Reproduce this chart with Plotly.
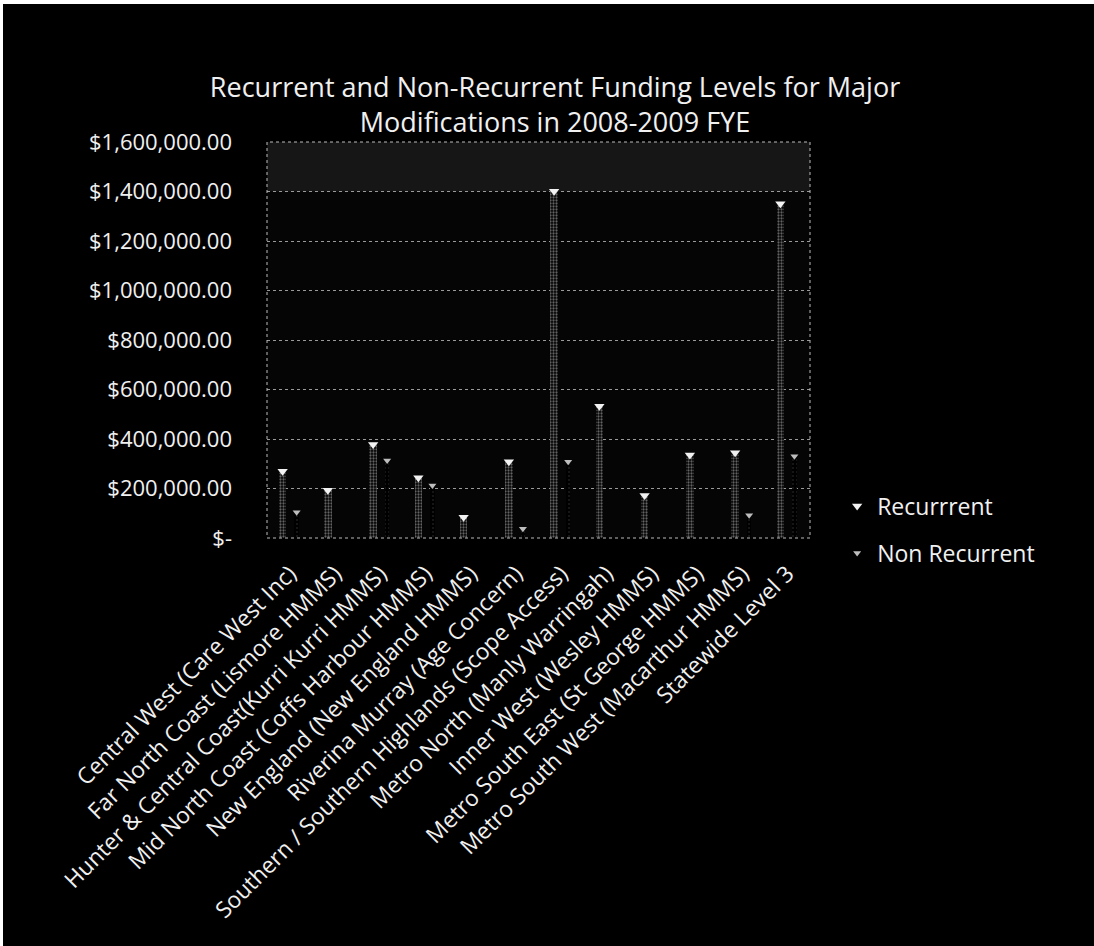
import numpy as np
import plotly.graph_objects as go

categories = [
    "Central West (Care West Inc)",
    "Far North Coast (Lismore HMMS)",
    "Hunter & Central Coast(Kurri Kurri HMMS)",
    "Mid North Coast (Coffs Harbour HMMS)",
    "New England (New England HMMS)",
    "Riverina Murray (Age Concern)",
    "Southern / Southern Highlands (Scope Access)",
    "Metro North (Manly Warringah)",
    "Inner West (Wesley HMMS)",
    "Metro South East (St George HMMS)",
    "Metro South West (Macarthur HMMS)",
    "Statewide Level 3",
]
recurrent = [270000, 193000, 378000, 243000, 84000, 308000, 1401000, 532000, 172000, 335000, 344000, 1351000]
non_recurrent = [104000, 0, 313000, 212000, 0, 37000, 308000, 0, 0, 0, 92000, 330000]
tick_vals = [0, 200000, 400000, 600000, 800000, 1000000, 1200000, 1400000, 1600000]
tick_text = ["$-", "$200,000.00", "$400,000.00", "$600,000.00", "$800,000.00",
             "$1,000,000.00", "$1,200,000.00", "$1,400,000.00", "$1,600,000.00"]

FONT = "Open Sans"
W, H = 1091, 942
xs = np.arange(len(categories))
off = 0.155
bw = 0.17

fig = go.Figure()
fig.add_trace(go.Bar(
    x=xs - off, y=recurrent, width=bw, showlegend=False, hoverinfo="skip",
    marker=dict(color="#000000", line=dict(width=0),
                pattern=dict(shape=".", fgcolor="#c4c4c4", size=3, solidity=0.45)),
))
fig.add_trace(go.Bar(
    x=xs + off, y=non_recurrent, width=bw * 0.6, showlegend=False, hoverinfo="skip",
    marker=dict(color="#000000", line=dict(width=0),
                pattern=dict(shape=".", fgcolor="#3a3a3a", size=4, solidity=0.2)),
))
fig.add_trace(go.Scatter(
    x=xs - off, y=recurrent, mode="markers", name="Recurrrent", legendgroup="a",
    marker=dict(symbol="triangle-down", size=9, color="#f2f2f2"),
))
nr_x = [x + off for x, v in zip(xs, non_recurrent) if v > 0]
nr_y = [v for v in non_recurrent if v > 0]
fig.add_trace(go.Scatter(
    x=nr_x, y=nr_y, mode="markers", name="Non Recurrent", legendgroup="b",
    marker=dict(symbol="triangle-down", size=7, color="#bdbdbd"),
))

fig.update_layout(
    width=W, height=H,
    margin=dict(l=264, r=284, t=138, b=408),
    paper_bgcolor="#000000", plot_bgcolor="#050505",
    font=dict(family=FONT, color="#f0f0f0", size=22),
    title=dict(
        text="Recurrent and Non-Recurrent Funding Levels for Major<br>Modifications in 2008-2009 FYE",
        x=552 / W, xanchor="center", xref="container",
        y=1 - 93 / H, yanchor="middle", yref="container",
        font=dict(family=FONT, size=27, color="#f0f0f0"),
    ),
    showlegend=True,
    legend=dict(x=1.05, xanchor="left", y=0.135, yanchor="top",
                font=dict(family=FONT, size=23, color="#f0f0f0"),
                bgcolor="rgba(0,0,0,0)", tracegroupgap=14),
    bargap=0,
)
fig.update_xaxes(
    range=[-0.5, len(categories) - 0.5], tickvals=xs, ticktext=categories,
    tickangle=-45, showgrid=False, zeroline=False, showline=False,
    ticks="", ticklabelstandoff=17,
    tickfont=dict(family=FONT, size=22.7, color="#f0f0f0"),
)
fig.update_yaxes(
    range=[0, 1600000], tickvals=tick_vals, ticktext=tick_text,
    showgrid=True, gridcolor="#9a9a9a", griddash="dot", gridwidth=1,
    zeroline=False, showline=False, ticks="", ticklabelstandoff=34,
    tickfont=dict(family=FONT, size=22, color="#f0f0f0"),
)
fig.add_shape(type="rect", xref="paper", yref="y", x0=0, x1=1, y0=tick_vals[-2], y1=tick_vals[-1],
              fillcolor="rgba(255,255,255,0.07)", line=dict(width=0), layer="below")
fig.add_shape(type="rect", xref="paper", yref="paper", x0=0, x1=1, y0=0, y1=1,
              line=dict(color="#bbbbbb", width=1, dash="dot"), fillcolor="rgba(0,0,0,0)")

fig.write_html("out.html", post_script="document.body.style.margin='4px 0 0 3px';")
